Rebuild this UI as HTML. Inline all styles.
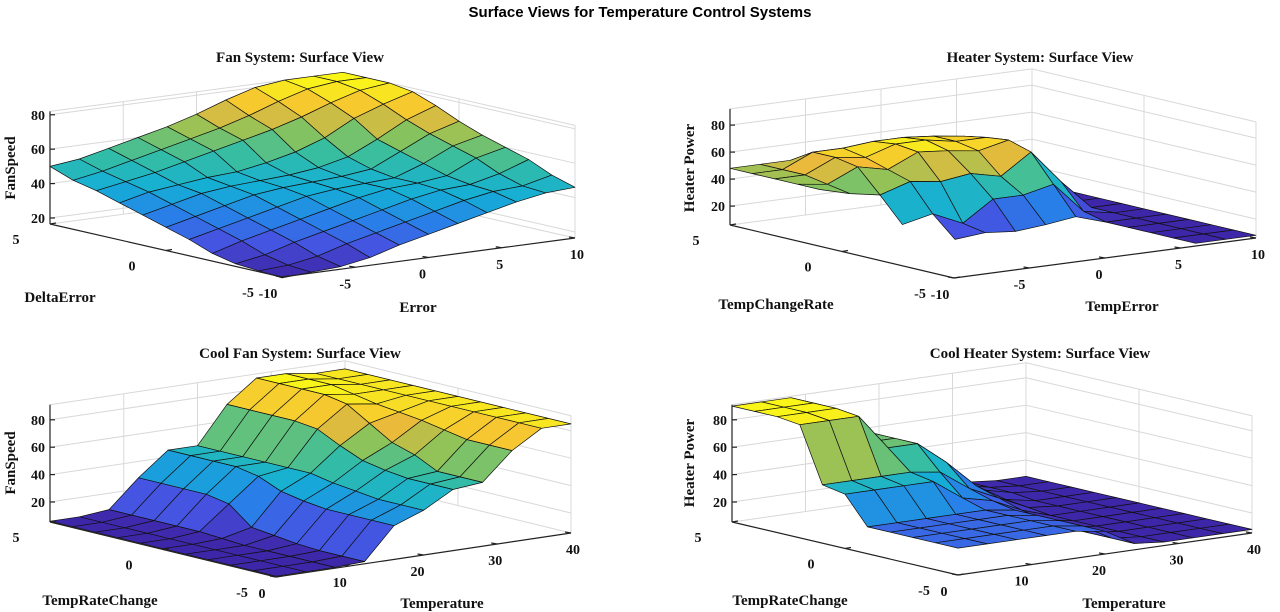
<!DOCTYPE html>
<html><head><meta charset="utf-8"><style>
html,body{margin:0;padding:0;background:#fff;}
svg{display:block;}
.t{font-family:"Liberation Serif",serif;font-weight:bold;fill:#111;}
</style></head><body>
<svg id="fig" width="1280" height="612" viewBox="0 0 1280 612">
<text x="640" y="17" text-anchor="middle" style="font-family:'Liberation Sans',sans-serif;font-weight:bold;font-size:15px">Surface Views for Temperature Control Systems</text>
</svg>
<script>
// ---- data ----
const fanU=[-5,-4,-3,-2,-1,0,1,2,3,4,5];
const fanV=[-10,-8,-6,-4,-2,0,2,4,6,8,10];
const fanZ=[
[16,17,18,21,26,30,34,38,42,45,46],
[17,18,21,26,30,34,38,42,45,46,50],
[18,21,26,30,34,38,42,45,46,50,56],
[21,26,30,34,38,42,45,46,48,56,60],
[26,30,34,38,42,44,45,46,52,60,64],
[30,34,38,42,44,45,46,48,56,64,69],
[34,38,42,44,45,46,48,52,60,69,75],
[38,42,44,46,47,50,54,60,69,75,80],
[42,45,48,52,56,60,64,69,75,80,82],
[45,48,52,56,60,64,69,75,80,82,82],
[50,52,56,60,64,69,75,80,82,82,82]];
const heatU=[-5,-4,-3,-2,-1,0,1,2,3,4,5];
const heatV=[-10,-8,-6,-4,-2,0,2,4,6,8,10];
const heatZ=[
[0,0,0,0,0,0,0,0,8,8,8],
[0,0,0,0,0,0,0,0,8,8,8],
[0,0,0,0,0,0,0,0,8,8,8],
[0,0,0,0,0,0,0,0,8,8,8],
[0,0,0,10,12,10,12,15,8,8,8],
[0,0,20,25,15,30,30,35,12,8,8],
[48,42,38,45,42,45,40,55,30,8,8],
[48,45,55,50,60,58,55,60,35,8,8],
[48,48,58,55,62,62,58,58,40,8,8],
[48,48,58,58,60,60,58,55,40,8,8],
[48,48,48,48,48,48,48,48,48,10,8]];
const cfU=[-5,-4,-3,-2,-1,0,1,2,3,4,5];
const cfV=[0,4,8,12,16,20,24,28,32,36,40];
const cfZ=[
[6,6,6,7,30,38,50,52,72,85,85],
[6,6,6,7,30,38,50,52,72,85,85],
[6,6,6,7,30,38,50,52,72,85,85],
[6,6,6,8,30,40,52,60,75,85,85],
[6,6,6,10,32,42,55,65,78,85,85],
[6,6,7,12,35,45,62,75,80,85,85],
[6,6,8,25,42,45,70,85,82,85,85],
[6,6,8,28,45,45,72,88,85,85,85],
[6,6,8,28,45,45,72,88,88,85,85],
[6,6,8,28,45,45,72,88,88,85,85],
[6,6,8,28,45,45,72,88,88,85,85]];
const chU=[-5,-4,-3,-2,-1,0,1,2,3,4,5];
const chV=[0,4,8,12,16,20,24,28,32,36,40];
const chZ=[
[25,25,25,25,25,22,10,8,8,8,8],
[25,25,25,25,25,22,10,8,8,8,8],
[25,25,25,25,25,22,10,8,8,8,8],
[25,25,25,25,25,22,10,8,8,8,8],
[25,25,25,25,25,22,12,8,8,8,8],
[45,45,45,45,30,25,15,8,8,8,8],
[48,48,48,48,45,30,20,10,8,8,8],
[88,88,88,62,62,45,25,12,8,8,8],
[90,90,90,62,62,50,30,15,10,8,8],
[90,90,90,62,62,50,30,15,10,8,8],
[90,90,90,62,62,50,30,15,10,8,8]];
const zTicks=[20,40,60,80];
const fanVTicks=[-10,-5,0,5,10];
const tempVTicks=[0,10,20,30,40];
const uTicks=[-5,0,5];

const NS='http://www.w3.org/2000/svg';
const svg=document.getElementById('fig');
const stops=[[0,[62,38,168]],[0.14,[70,82,225]],[0.28,[40,128,232]],[0.42,[20,175,214]],[0.57,[55,190,160]],[0.71,[140,195,90]],[0.85,[245,185,55]],[1,[249,245,25]]];
function cmap(t){t=Math.max(0,Math.min(1,t));for(let i=1;i<stops.length;i++){if(t<=stops[i][0]){const a=stops[i-1],b=stops[i],f=(t-a[0])/(b[0]-a[0]);return 'rgb('+a[1].map((c,k)=>Math.round(c+(b[1][k]-c)*f)).join(',')+')';}}return 'rgb(249,245,25)';}
function mk(tag,attrs,parent){const e=document.createElementNS(NS,tag);for(const k in attrs)e.setAttribute(k,attrs[k]);(parent||svg).appendChild(e);return e;}

function plot(c){
  const g=mk('g',{});
  
  
  const umin=c.U[0],umax=c.U[c.U.length-1],vmin=c.vt[0],vmax=c.vt[c.vt.length-1];
  function P(u,v,z){const a=(u-umin)/(umax-umin),b=(v-vmin)/(vmax-vmin);
    return [c.F[0]+a*(c.L[0]-c.F[0])+b*(c.R[0]-c.F[0]), c.F[1]+a*(c.L[1]-c.F[1])+b*(c.R[1]-c.F[1])-(z-c.zf)*c.k];}
  const grid=mk('g',{stroke:'#d8d8d8','stroke-width':1,fill:'none'},g);
  
  
  const zs=[c.zf].concat(zTicks).concat([c.zt]);
  zs.forEach(z=>{const p1=P(umax,vmin,z),p2=P(umax,vmax,z),p3=P(umin,vmax,z);
    mk('polyline',{points:[p1,p2,p3].map(p=>p.join(',')).join(' ')},grid);});
  c.vt.forEach(v=>{const a=P(umax,v,c.zf),b=P(umax,v,c.zt);mk('line',{x1:a[0],y1:a[1],x2:b[0],y2:b[1]},grid);});
  uTicks.forEach(u=>{const a=P(u,vmax,c.zf),b=P(u,vmax,c.zt);mk('line',{x1:a[0],y1:a[1],x2:b[0],y2:b[1]},grid);});
  const quads=[];
  const clip=c.zf-3;
  let zmn=Infinity,zmx=-Infinity;c.Z.forEach(r=>r.forEach(z=>{if(z>=clip){zmn=Math.min(zmn,z);zmx=Math.max(zmx,z);}}));
  for(let j=0;j<c.U.length-1;j++)for(let i=0;i<c.V.length-1;i++){
    const zz=[c.Z[j][i],c.Z[j][i+1],c.Z[j+1][i+1],c.Z[j+1][i]];
    if(zz.some(z=>z<clip))continue;
    const pts=[P(c.U[j],c.V[i],zz[0]),P(c.U[j],c.V[i+1],zz[1]),P(c.U[j+1],c.V[i+1],zz[2]),P(c.U[j+1],c.V[i],zz[3])];
    const a=(c.U[j]+c.U[j+1])/2,b=(c.V[i]+c.V[i+1])/2;
    const d=(a-umin)/(umax-umin)+(b-vmin)/(vmax-vmin);
    const m=(zz[0]+zz[1]+zz[2]+zz[3])/4;
    quads.push({pts,d,col:cmap((m-zmn)/(zmx-zmn||1))});
  }
  quads.sort((p,q)=>q.d-p.d);
  const sg=mk('g',{stroke:'#111','stroke-width':0.7,'stroke-linejoin':'round'},g);
  
  
  quads.forEach(q=>{const e=mk('polygon',{points:q.pts.map(p=>p[0].toFixed(1)+','+p[1].toFixed(1)).join(' '),fill:q.col},sg);
    
    });
  const ax=mk('g',{stroke:'#222','stroke-width':1.2,fill:'none'},g);
  
  
  const L0=P(umax,vmin,c.zf),L1=P(umax,vmin,c.zt),F0=P(umin,vmin,c.zf),R0=P(umin,vmax,c.zf);
  mk('line',{x1:L0[0],y1:L0[1],x2:L1[0],y2:L1[1]},ax);
  mk('line',{x1:L0[0],y1:L0[1],x2:F0[0],y2:F0[1]},ax);
  mk('line',{x1:F0[0],y1:F0[1],x2:R0[0],y2:R0[1]},ax);
  zTicks.forEach(z=>{const p=P(umax,vmin,z);mk('line',{x1:p[0],y1:p[1],x2:p[0]+5,y2:p[1]},ax);
    const t=mk('text',{x:p[0]-5,y:p[1]+5,'text-anchor':'end','font-size':14,class:'t'},g);t.textContent=z;
    
    });
  uTicks.forEach(u=>{const p=P(u,vmin,c.zf);mk('line',{x1:p[0],y1:p[1],x2:p[0]+6,y2:p[1]-1},ax);
    const t=mk('text',{x:p[0]-34,y:p[1]+20,'text-anchor':'middle','font-size':14,class:'t'},g);t.textContent=u;
    
    });
  c.vt.forEach(v=>{const p=P(umin,v,c.zf);const b=(v-vmin)/(vmax-vmin);mk('line',{x1:p[0],y1:p[1],x2:p[0]-6,y2:p[1]-1},ax);
    const t=mk('text',{x:p[0]-14+16*b,y:p[1]+21,'text-anchor':'middle','font-size':14,class:'t'},g);t.textContent=v;
    
    });
  const tt=mk('text',{x:c.title[0],y:c.title[1],'text-anchor':'middle','font-size':15,class:'t'},g);tt.textContent=c.title[2];
  
  
  const ul=mk('text',{x:c.ul[0],y:c.ul[1],'text-anchor':'middle','font-size':15,class:'t'},g);ul.textContent=c.ul[2];
  
  
  const vl=mk('text',{x:c.vl[0],y:c.vl[1],'text-anchor':'middle','font-size':15,class:'t'},g);vl.textContent=c.vl[2];
  
  
  const zl=mk('text',{x:0,y:0,'text-anchor':'middle','font-size':15,class:'t',transform:'translate('+c.zl[0]+','+c.zl[1]+') rotate(-90)'},g);zl.textContent=c.zl[2];
  
  
}
plot({name:'fan-system-plot',U:fanU,V:fanV,Z:fanZ,vt:fanVTicks,F:[282,277],L:[50,224],R:[575,238],k:1.72,zf:16.5,zt:82,
  title:[300,62,'Fan System: Surface View'],ul:[60,302,'DeltaError'],vl:[418,312,'Error'],zl:[15,168,'FanSpeed']});
plot({name:'heater-system-plot',U:heatU,V:heatV,Z:heatZ,vt:fanVTicks,F:[954,278],L:[730,225],R:[1256,238],k:1.35,zf:6,zt:92,
  title:[1040,62,'Heater System: Surface View'],ul:[776,309,'TempChangeRate'],vl:[1122,311,'TempError'],zl:[694,168,'Heater Power']});
plot({name:'cool-fan-system-plot',U:cfU,V:cfV,Z:cfZ,vt:tempVTicks,F:[276,577],L:[50,522],R:[571,533],k:1.37,zf:5.4,zt:91,
  title:[300,358,'Cool Fan System: Surface View'],ul:[100,605,'TempRateChange'],vl:[442,608,'Temperature'],zl:[15,463,'FanSpeed']});
plot({name:'cool-heater-system-plot',U:chU,V:chV,Z:chZ,vt:tempVTicks,F:[958,575],L:[732,522],R:[1252,533],k:1.37,zf:5.4,zt:91,
  title:[1040,358,'Cool Heater System: Surface View'],ul:[790,605,'TempRateChange'],vl:[1124,608,'Temperature'],zl:[694,463,'Heater Power']});
</script>
</body></html>
